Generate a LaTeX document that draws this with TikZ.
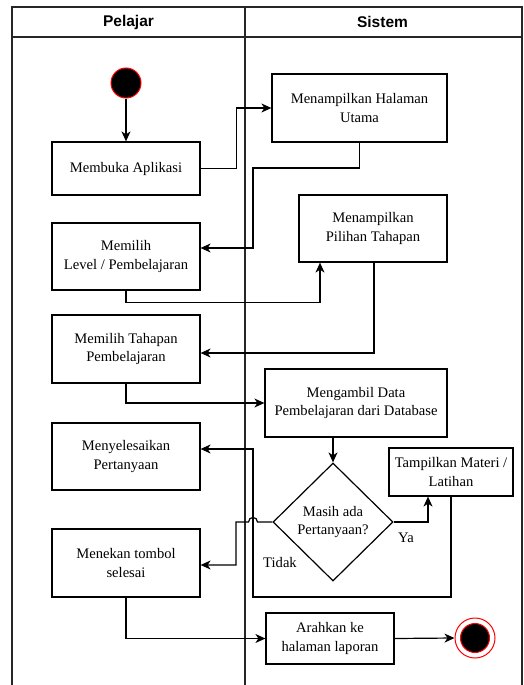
\documentclass[tikz,border=0pt]{standalone}
\usepackage{fontspec}
\setmainfont{Liberation Serif}
\newfontfamily\headfont{Liberation Sans}
\usetikzlibrary{arrows.meta,shapes.geometric}
\begin{document}
\begin{tikzpicture}[x=1pt,y=-1pt,
  every node/.style={font=\fontsize{14.6}{18.4}\selectfont},
  act/.style={draw=black,line width=1.2pt,align=center,inner sep=0pt},
  lane/.style={line width=1.4pt,draw=black!85},
  arr/.style={line width=1.2pt,-{Stealth[length=10pt,width=9pt,inset=3pt]}},
  head/.style={font=\headfont\bfseries\fontsize{15.5}{18}\selectfont},
  startnode/.style={circle,fill=black,draw=red,line width=1pt,minimum size=30pt,inner sep=0pt},
  decision/.style={diamond,draw=black,line width=1.2pt,minimum width=120pt,minimum height=118pt,inner sep=0pt,align=center}]
\useasboundingbox (0,0) rectangle (523,685);

% swimlane frame
\draw[lane] (12,690) -- (12,7) -- (522,7) -- (522,690);
\draw[lane] (12,37) -- (522,37);
\draw[lane] (245,7) -- (245,690);
\node[head] (hpel) at (128.5,22) {Pelajar};
\node[head] (hsis) at (382.5,22) {Sistem};

% activities
\node[startnode] (start) at (126,83) {};
\node[act,minimum width=148pt,minimum height=53pt] (membuka) at (126,168.5) {Membuka Aplikasi};
\node[act,minimum width=175pt,minimum height=68pt] (halaman) at (359.5,108) {Menampilkan Halaman\\Utama};
\node[act,minimum width=148pt,minimum height=67pt] (level) at (126,256.5) {Memilih\\Level / Pembelajaran};
\node[act,minimum width=148pt,minimum height=67pt] (pilihan) at (373,228.5) {Menampilkan\\Pilihan Tahapan};
\node[act,minimum width=148pt,minimum height=68pt] (tahapan) at (126,349) {Memilih Tahapan\\Pembelajaran};
\node[act,minimum width=182pt,minimum height=68pt] (ambil) at (356,403) {Mengambil Data\\Pembelajaran dari Database};
\node[act,minimum width=148pt,minimum height=67pt] (selesaikan) at (126,456.5) {Menyelesaikan\\Pertanyaan};
\node[decision] (cek) at (333,522) {Masih ada\\Pertanyaan?};
\node[act,minimum width=124pt,minimum height=48pt] (materi) at (451,472) {Tampilkan Materi /\\Latihan};
\node[act,minimum width=148pt,minimum height=68pt] (tombol) at (126,563) {Menekan tombol\\selesai};
\node[act,minimum width=128pt,minimum height=51pt] (arahkan) at (330,638.5) {Arahkan ke\\halaman laporan};
\node[circle,draw=red,line width=1pt,fill=white,minimum size=40pt,inner sep=0pt] (end) at (475,638) {};
\node[startnode,minimum size=29pt] (endin) at (end) {};

% flows
\draw[arr] (start) -- (membuka);
\draw[arr] (membuka.east) -- ++(36,0) |- (halaman.west);
\draw[arr] (halaman.south) |- (253,168) |- ([yshift=8.5pt]level.east);
\draw[arr] (level.south) -- ++(0,12) -| ([xshift=-53pt]pilihan.south);
\draw[arr] ([xshift=1pt]pilihan.south) |- ([yshift=-4pt]tahapan.east);
\draw[arr] (tahapan.south) |- (ambil.west);
\draw[arr] (ambil.south -| cek.north) -- (cek.north);
\draw[arr] (cek.east) -| ([xshift=-23pt]materi.south);
\draw[arr] (materi.south) |- (253,597) |- ([yshift=7.5pt]selesaikan.east);
\draw[arr] (cek.west) -- (257.5,522) .. controls (257.5,516) and (248.5,516) .. (248.5,522)
  -- (236,522) |- ([yshift=-2pt]tombol.east);
\draw[arr] (tombol.south) |- (arahkan.west);
\draw[arr] (arahkan.east) -- (end.west);

% branch labels
\node (ya) at (406,538) {Ya};
\node (tidak) at (280,562) {Tidak};
\end{tikzpicture}
\end{document}
